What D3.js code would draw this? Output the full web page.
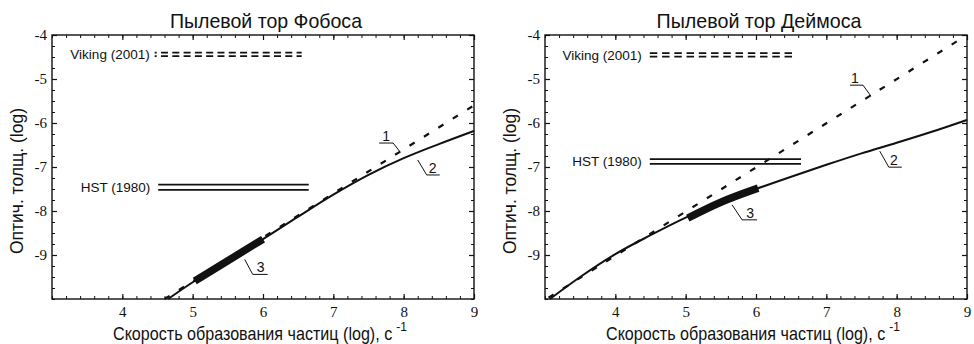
<!DOCTYPE html>
<html><head><meta charset="utf-8">
<script src="https://cdn.jsdelivr.net/npm/d3@7"></script>
<style>body{margin:0;background:#fff}svg{display:block}</style>
</head><body>
<svg id="c" width="974" height="344"></svg>
<script>
// ---- data ----
const xTicks = [4, 5, 6, 7, 8, 9];
const yTicks = [-4, -5, -6, -7, -8, -9];
const xDomain = [3, 9];
const yDomain = [-10, -4];
const titles = ["Пылевой тор Фобоса", "Пылевой тор Деймоса"];
const yLabel = "Оптич. толщ. (log)";
const xLabel = "Скорость образования частиц (log), c";
const xLabelSup = "-1";
const curveLabels = ["1", "2", "3"];
const vikingText = "Viking (2001)";
const hstText = "HST (1980)";

// Phobos
const phobosCurveX = [4.65, 5.0, 5.5, 6.0, 6.5, 7.0, 7.5, 8.0, 8.5, 9.0];
const phobosCurveY = [-10.0, -9.62, -9.13, -8.64, -8.13, -7.63, -7.18, -6.80, -6.48, -6.18];
const phobosLineX = [4.6, 9.0];
const phobosLineY = [-10.0, -5.6];
const phobosThickX = [5.03, 5.5, 6.0];
const phobosThickY = [-9.59, -9.13, -8.64];
const phobosVikingX = [4.46, 6.55];
const phobosVikingY = [-4.40, -4.48];
const phobosHstX = [4.51, 6.65];
const phobosHstY = [-7.40, -7.52];
const phobosLabelX = [7.95, 8.2, 5.74];
const phobosLabelY = [-6.66, -6.84, -9.10];

// Deimos
const deimosCurveX = [3.07, 3.5, 4.0, 4.5, 5.0, 5.5, 6.0, 6.5, 7.0, 7.5, 8.0, 8.5, 9.0];
const deimosCurveY = [-10.0, -9.5, -8.98, -8.55, -8.15, -7.8, -7.5, -7.22, -6.95, -6.69, -6.45, -6.2, -5.93];
const deimosLineX = [3.05, 8.9];
const deimosLineY = [-9.97, -4.1];
const deimosThickX = [5.03, 5.5, 6.03];
const deimosThickY = [-8.16, -7.8, -7.48];
const deimosVikingX = [4.49, 6.58];
const deimosVikingY = [-4.41, -4.49];
const deimosHstX = [4.49, 6.64];
const deimosHstY = [-6.82, -6.93];
const deimosLabelX = [7.635, 7.76, 5.66];
const deimosLabelY = [-5.39, -6.64, -7.86];

// ---- drawing ----
const svg = d3.select("#c");
const INK = "#111";
const SANS = "'Liberation Sans', Arial, sans-serif";
const SERIF = "'Liberation Serif', 'Times New Roman', serif";

const panels = [
  { x0: 52, x1: 474, title: titles[0], titleW: 192, ylx: 17,
    curveX: phobosCurveX, curveY: phobosCurveY, lineX: phobosLineX, lineY: phobosLineY,
    thickX: phobosThickX, thickY: phobosThickY, vikX: phobosVikingX, vikY: phobosVikingY,
    vikDash: "7,4.3", vikOff: 5,
    hstX: phobosHstX, hstY: phobosHstY, hstGap: 8, vikGap: 5,
    labX: phobosLabelX, labY: phobosLabelY,
    offs: [[-7, -9, -21, -14], [9, 15, 22, 15], [8, 15, 23, 16]] },
  { x0: 545, x1: 967, title: titles[1], titleW: 205, ylx: 510,
    curveX: deimosCurveX, curveY: deimosCurveY, lineX: deimosLineX, lineY: deimosLineY,
    thickX: deimosThickX, thickY: deimosThickY, vikX: deimosVikingX, vikY: deimosVikingY,
    vikDash: "7.5,4.75", vikOff: 0,
    hstX: deimosHstX, hstY: deimosHstY, hstGap: 8, vikGap: 8,
    labX: deimosLabelX, labY: deimosLabelY,
    offs: [[-8, -11, -21, -16], [9, 16, 22, 14], [10, 15, 25, 18]] }
];

const yTop = 35, yBot = 299;

panels.forEach(p => {
  const x = d3.scaleLinear().domain(xDomain).range([p.x0, p.x1]);
  const y = d3.scaleLinear().domain(yDomain).range([yBot, yTop]);
  const g = svg.append("g");

  const minorX = d3.range(3, 9.0001, 0.2).map(v => +v.toFixed(2));
  const minorY = d3.range(-10, -3.9999, 0.25).map(v => +v.toFixed(2));

  // minor ticks (all four sides)
  const axMinor = [
    [d3.axisBottom(x).tickValues(minorX), `translate(0,${yBot})`],
    [d3.axisTop(x).tickValues(minorX), `translate(0,${yTop})`],
    [d3.axisLeft(y).tickValues(minorY), `translate(${p.x0},0)`],
    [d3.axisRight(y).tickValues(minorY), `translate(${p.x1},0)`]
  ];
  axMinor.forEach(([ax, tr]) => {
    const a = g.append("g").attr("transform", tr)
      .call(ax.tickSize(-3).tickSizeOuter(0).tickFormat(""));
    a.select(".domain").remove();
    a.selectAll("line").attr("stroke", INK).attr("stroke-width", 1);
  });

  // major ticks on top/right without labels
  [[d3.axisTop(x).tickValues(xTicks), `translate(0,${yTop})`],
   [d3.axisRight(y).tickValues(yTicks), `translate(${p.x1},0)`]].forEach(([ax, tr]) => {
    const a = g.append("g").attr("transform", tr)
      .call(ax.tickSize(-5).tickSizeOuter(0).tickFormat(""));
    a.select(".domain").remove();
    a.selectAll("line").attr("stroke", INK).attr("stroke-width", 1.2);
  });

  // bottom axis with labels
  const ab = g.append("g").attr("transform", `translate(0,${yBot})`)
    .call(d3.axisBottom(x).tickValues(xTicks).tickSize(-5).tickSizeOuter(0).tickPadding(7).tickFormat(d3.format("d")));
  ab.select(".domain").remove();
  ab.selectAll("line").attr("stroke", INK).attr("stroke-width", 1.2);
  ab.selectAll("text").attr("font-family", SERIF).attr("font-size", 15).attr("fill", INK);

  // left axis with labels
  const al = g.append("g").attr("transform", `translate(${p.x0},0)`)
    .call(d3.axisLeft(y).tickValues(yTicks).tickSize(-5).tickSizeOuter(0).tickPadding(5).tickFormat(d => String(d)));
  al.select(".domain").remove();
  al.selectAll("line").attr("stroke", INK).attr("stroke-width", 1.2);
  al.selectAll("text").attr("font-family", SERIF).attr("font-size", 15).attr("fill", INK);

  // frame
  g.append("rect").attr("x", p.x0).attr("y", yTop)
    .attr("width", p.x1 - p.x0).attr("height", yBot - yTop)
    .attr("fill", "none").attr("stroke", INK).attr("stroke-width", 1.4);

  const line = d3.line().x(d => x(d[0])).y(d => y(d[1])).curve(d3.curveMonotoneX);

  // dashed line 1
  g.append("path").datum(p.lineX.map((v, i) => [v, p.lineY[i]]))
    .attr("d", line).attr("fill", "none").attr("stroke", INK)
    .attr("stroke-width", 2.2).attr("stroke-dasharray", "6,11");

  // solid curve 2
  g.append("path").datum(p.curveX.map((v, i) => [v, p.curveY[i]]))
    .attr("d", line).attr("fill", "none").attr("stroke", INK).attr("stroke-width", 2);

  // thick segment 3
  g.append("path").datum(p.thickX.map((v, i) => [v, p.thickY[i]]))
    .attr("d", line).attr("fill", "none").attr("stroke", INK).attr("stroke-width", 7.5);

  // Viking dashed double line
  p.vikY.forEach(v => {
    g.append("line").attr("x1", x(p.vikX[0])).attr("x2", x(p.vikX[1]))
      .attr("y1", y(v)).attr("y2", y(v))
      .attr("stroke", INK).attr("stroke-width", 1.8)
      .attr("stroke-dasharray", p.vikDash).attr("stroke-dashoffset", p.vikOff);
  });
  g.append("text").attr("x", x(p.vikX[0]) - p.vikGap).attr("y", y(d3.mean(p.vikY)))
    .attr("dy", "0.35em").attr("text-anchor", "end")
    .attr("font-family", SANS).attr("font-size", 13.5).attr("fill", INK).text(vikingText);

  // HST double solid line
  p.hstY.forEach(v => {
    g.append("line").attr("x1", x(p.hstX[0])).attr("x2", x(p.hstX[1]))
      .attr("y1", y(v)).attr("y2", y(v))
      .attr("stroke", INK).attr("stroke-width", 1.8);
  });
  g.append("text").attr("x", x(p.hstX[0]) - p.hstGap).attr("y", y(d3.mean(p.hstY)))
    .attr("dy", "0.35em").attr("text-anchor", "end")
    .attr("font-family", SANS).attr("font-size", 13.5).attr("fill", INK).text(hstText);

  // curve labels with leaders
  curveLabels.forEach((t, i) => {
    const ax = x(p.labX[i]), ay = y(p.labY[i]);
    const [lx, ly, ux, tx] = p.offs[i];
    g.append("path")
      .attr("d", `M${ax},${ay}L${ax + lx},${ay + ly}L${ax + ux},${ay + ly}`)
      .attr("fill", "none").attr("stroke", INK).attr("stroke-width", 1);
    g.append("text").attr("x", ax + tx).attr("y", ay + ly - 2)
      .attr("text-anchor", "middle").attr("font-family", SANS).attr("font-size", 14)
      .attr("fill", INK).text(t);
  });

  // title
  g.append("text").attr("x", (p.x0 + p.x1) / 2 + 3).attr("y", 28)
    .attr("text-anchor", "middle").attr("font-family", SANS).attr("font-size", 21)
    .attr("textLength", p.titleW).attr("lengthAdjust", "spacingAndGlyphs")
    .attr("fill", INK).text(p.title);

  // y label
  g.append("text").attr("transform", `translate(${p.ylx},181) rotate(-90)`)
    .attr("text-anchor", "middle").attr("dy", "0.35em")
    .attr("font-family", SANS).attr("font-size", 18)
    .attr("textLength", 146).attr("lengthAdjust", "spacingAndGlyphs")
    .attr("fill", INK).text(yLabel);

  // x label (horizontally condensed) with superscript
  const xs = p.x0 + 61;
  const xt = g.append("text").attr("transform", `translate(${xs},340) scale(0.895,1)`)
    .attr("font-family", SANS).attr("font-size", 18).attr("fill", INK).text(xLabel);
  const w = xt.node().getComputedTextLength() * 0.895;
  g.append("text").attr("x", xs + w + 4).attr("y", 331)
    .attr("font-family", SANS).attr("font-size", 12).attr("fill", INK).text(xLabelSup);
});
</script>
</body></html>
